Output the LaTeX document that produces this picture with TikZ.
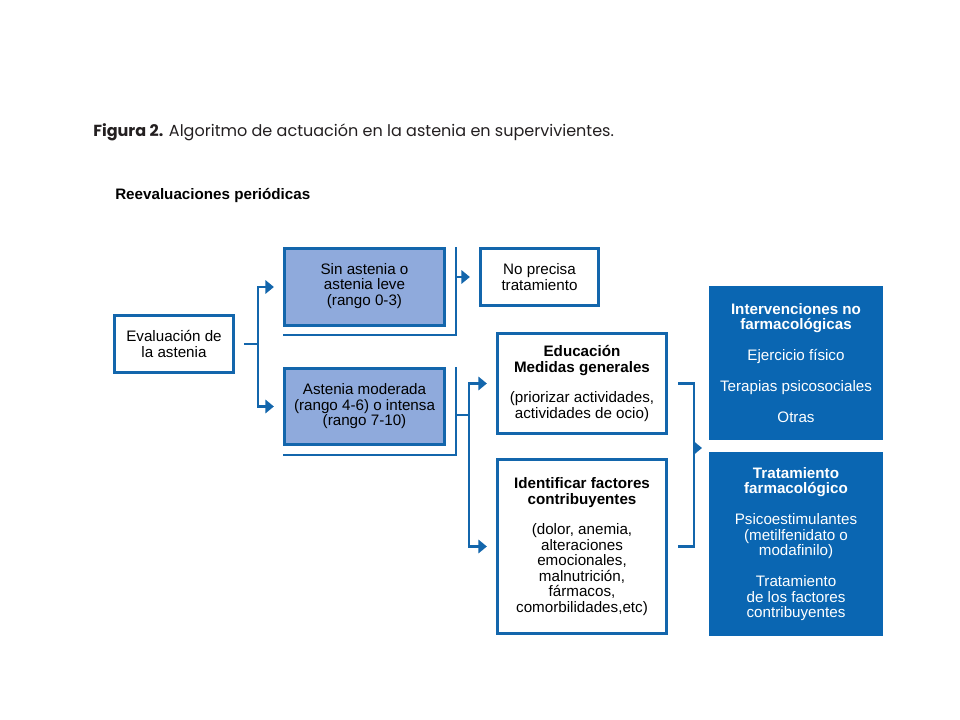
\documentclass[tikz,border=0pt]{standalone}
\usepackage{fontspec}
\setmainfont{Liberation Sans}
\newfontfamily\titlefont{Poppins}
\usepackage{tikz}
\usetikzlibrary{arrows.meta, positioning, calc}
\definecolor{lineblue}{RGB}{19,102,172}
\definecolor{paleblue}{RGB}{143,170,220}
\definecolor{deepblue}{RGB}{10,102,178}
\definecolor{titlegray}{RGB}{35,31,32}

\begin{document}
\begin{tikzpicture}[x=0.025cm, y=-0.025cm,
  every node/.style={font=\fontsize{10.8}{11}\selectfont, align=center, inner sep=0pt},
  wbox/.style={draw=lineblue, line width=2.1pt, fill=white},
  lbox/.style={draw=lineblue, line width=2.1pt, fill=paleblue},
  dbox/.style={fill=deepblue, text=white},
  link/.style={draw=lineblue, line width=2pt},
  arr/.style={link, -{Triangle[length=6pt, width=9.5pt]}, shorten >=6.5pt}]
\useasboundingbox (0,0) rectangle (960,720);

% titles
\node[anchor=base west, font=\titlefont\fontsize{11.4}{14}\selectfont, text=titlegray] (title) at (93,137)
  {\textbf{Figura 2.} Algoritmo de actuación en la astenia en supervivientes.};
\node[anchor=base west, font=\bfseries\fontsize{10.8}{11}\selectfont] (reev) at (115,200) {Reevaluaciones periódicas};

% boxes
\node[wbox, minimum width=2.975cm, minimum height=1.425cm] (eval) at (174,344) {Evaluación de\\la astenia};
\node[lbox, minimum width=4cm, minimum height=1.925cm, text depth=4pt] (sin) at (364.5,287) {Sin astenia o\\astenia leve\\(rango 0-3)};
\node[lbox, minimum width=4cm, minimum height=1.9cm] (mod) at (364.5,406.5) {Astenia moderada\\(rango 4-6) o intensa\\(rango 7-10)};
\node[wbox, minimum width=2.95cm, minimum height=1.425cm] (nopre) at (539.5,277) {No precisa\\tratamiento};
\node[wbox, minimum width=4.225cm, minimum height=2.5cm] (edu) at (582,383.5)
  {\textbf{Educación}\\\textbf{Medidas generales}\\[11pt](priorizar actividades,\\actividades de ocio)};
\node[wbox, minimum width=4.225cm, minimum height=4.35cm] (ide) at (582,546.5)
  {\textbf{Identificar factores}\\\textbf{contribuyentes}\\[11pt](dolor, anemia,\\alteraciones\\emocionales,\\malnutrición,\\fármacos,\\comorbilidades,etc)};
\node[dbox, minimum width=4.35cm, minimum height=3.85cm] (interv) at (796,363)
  {\textbf{Intervenciones no}\\\textbf{farmacológicas}\\[11pt]Ejercicio físico\\[11pt]Terapias psicosociales\\[11pt]Otras};
\node[dbox, minimum width=4.35cm, minimum height=4.6cm] (trat) at (796,544)
  {\textbf{Tratamiento}\\\textbf{farmacológico}\\[11pt]Psicoestimulantes\\(metilfenidato o\\modafinilo)\\[11pt]Tratamiento\\de los factores\\contribuyentes};

% connectors
\coordinate (evsplit) at (258,344);
\draw[link] ($(eval.east)+(9,0)$) -- (evsplit);
\draw[arr] (evsplit) |- (sin.west);
\draw[arr] (evsplit) |- (mod.west);

\draw[link] ($(sin.north east)+(10,0)$) coordinate (sinbr) |- ($(sin.south west)+(0,8)$);
\draw[arr] (sinbr |- nopre.west) -- (nopre.west);

\draw[link] ($(mod.north east)+(10,0)$) coordinate (modbr) |- ($(mod.south west)+(0,9)$);
\coordinate (modsplit) at (469,415);
\draw[link] (modbr |- modsplit) -- (modsplit);
\draw[arr] (modsplit) |- (edu.west);
\draw[arr] (modsplit) |- (ide.west);

\coordinate (merge) at (694,448);
\coordinate (mergetip) at (702,448);
\draw[link] ($(edu.east)+(10,0)$) -| (merge);
\draw[link] ($(ide.east)+(10,0)$) -| (merge);
\draw[arr, shorten >=0pt] (merge) -- (mergetip);
\end{tikzpicture}
\end{document}
